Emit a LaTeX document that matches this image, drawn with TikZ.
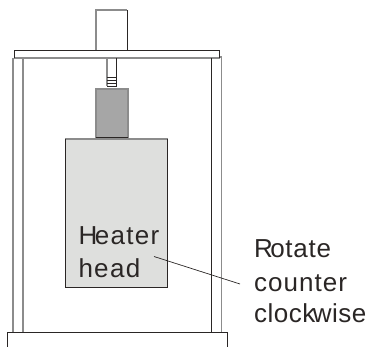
\documentclass[tikz,border=0pt]{standalone}
\usepackage{fontspec}
\setmainfont{Liberation Sans}
\definecolor{edgedark}{HTML}{2A2625}
\definecolor{edgegray}{HTML}{8C8C8C}
\definecolor{headfill}{HTML}{DEDFDD}
\definecolor{blockfill}{HTML}{A6A6A6}
\newcommand{\spaced}[1]{\addfontfeatures{LetterSpace=#1}}
\tikzset{
  dk/.style={draw=edgedark,line width=0.9bp},
  gr/.style={draw=edgegray,line width=1.1bp},
  lbl/.style={anchor=base west,inner sep=0pt,outer sep=0pt,font=\fontsize{26bp}{30bp}\selectfont,text=edgedark}
}
\begin{document}
\begin{tikzpicture}[x=1bp,y=-1bp]
\useasboundingbox (0,0) rectangle (367,347);
% top box
\draw[gr] (96,50) -- (96,10) -- (127,10);
\draw[dk] (127,10) -- (127,50);
% plate
\draw[gr] (14,58) -- (219.5,58);
\draw[dk] (14,58) -- (14,50.5) -- (219.5,50.5) -- (219.5,58);
% left column
\draw[gr] (13,58) -- (13,332);
\draw[gr] (23,58) -- (23,332);
% right column
\draw[dk] (211.5,58) -- (211.5,332);
\draw[gr] (219.5,57) -- (221.5,57) -- (221.5,332);
% base
\draw[dk] (7,347) -- (7,332.5) -- (227.5,332.5) -- (227.5,347);
% screw
\draw[gr] (107,58) -- (107,86);
\draw[dk] (116.5,58) -- (116.5,86.5) -- (107,86.5);
\foreach \yy in {77,80,83} \draw[dk,line width=0.7bp] (107,\yy) -- (116.5,\yy);
% block
\fill[blockfill] (96,89) rectangle (128,138);
\draw[gr] (96,138) -- (96,89) -- (128,89) -- (128,138);
\draw[dk] (96,137.5) -- (128,137.5);
% heater head
\fill[headfill] (65,139) rectangle (167.5,287.5);
\draw[gr] (65,139) -- (167.5,139);
\draw[dk] (65,139) -- (65,287.5) -- (167.5,287.5) -- (167.5,139);
% leader
\coordinate (leadA) at (154,256.5);
\coordinate (leadB) at (240,284);
\draw[edgedark,line width=0.7bp] (leadA) -- (leadB);
% labels
\node[lbl] (heater) at (78.5,244) {\spaced{5}H\kern-2.5bp eater};
\node[lbl] (head) at (78.5,277) {\spaced{5}head};
\node[lbl] (rotate) at (254,257) {\spaced{3}R\kern-2.5bp otate};
\node[lbl] (counter) at (254,291) {\spaced{4}counter};
\node[lbl] (clockwise) at (254,322) {\spaced{2}clock\kern-2.5bp wise};
\end{tikzpicture}
\end{document}
